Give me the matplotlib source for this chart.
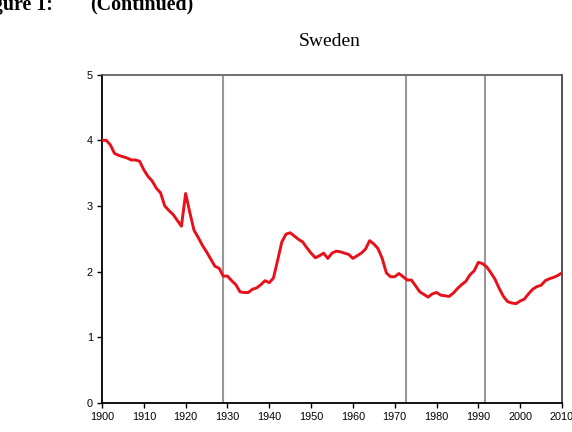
import matplotlib
matplotlib.use("Agg")
import matplotlib.pyplot as plt

years = list(range(1900, 2011))
values = [
    4.00, 4.00, 3.93, 3.80, 3.77, 3.75, 3.73, 3.70, 3.70, 3.68,   # 1900-1909
    3.55, 3.45, 3.38, 3.27, 3.20, 3.00, 2.93, 2.87, 2.78, 2.69,   # 1910-1919
    3.19, 2.90, 2.63, 2.52, 2.40, 2.30, 2.19, 2.08, 2.05, 1.93,   # 1920-1929
    1.93, 1.86, 1.80, 1.69, 1.68, 1.68, 1.73, 1.75, 1.80, 1.86,   # 1930-1939
    1.83, 1.90, 2.17, 2.45, 2.57, 2.59, 2.54, 2.49, 2.45, 2.36,   # 1940-1949
    2.28, 2.21, 2.24, 2.28, 2.20, 2.28, 2.31, 2.30, 2.28, 2.26,   # 1950-1959
    2.20, 2.24, 2.28, 2.34, 2.47, 2.42, 2.35, 2.20, 1.98, 1.92,   # 1960-1969
    1.92, 1.97, 1.92, 1.87, 1.87, 1.78, 1.69, 1.65, 1.61, 1.66,   # 1970-1979
    1.68, 1.64, 1.63, 1.62, 1.67, 1.74, 1.80, 1.85, 1.95, 2.01,   # 1980-1989
    2.14, 2.12, 2.07, 1.98, 1.88, 1.74, 1.62, 1.54, 1.52, 1.51,   # 1990-1999
    1.55, 1.58, 1.66, 1.73, 1.77, 1.79, 1.86, 1.89, 1.91, 1.94,   # 2000-2009
    1.98,                                                         # 2010
]
event_years = [1929.0, 1972.7, 1991.6]
xticks = list(range(1900, 2011, 10))
yticks = [0, 1, 2, 3, 4, 5]

fig = plt.figure(figsize=(5.72, 4.32), dpi=100)
ax = fig.add_axes([0.1783, 0.0678, 0.8042, 0.7593])

for ey in event_years:
    ax.axvline(ey, ymin=0, ymax=0.992, color="#999999", lw=1.5, zorder=1)

ax.plot(years, values, color="#e8101a", lw=2.1, zorder=3, solid_joinstyle="round")

ax.set_xlim(1900, 2010)
ax.set_ylim(0, 5)
ax.set_xticks(xticks)
ax.set_yticks(yticks)
ax.set_xticklabels([str(t) for t in xticks], fontsize=7.8, family="Liberation Sans")
ax.set_yticklabels([str(t) for t in yticks], fontsize=7.8, family="Liberation Sans")
ax.tick_params(axis="both", direction="out", length=3.5, width=1.0, color="black", pad=3)

for s in ["left", "bottom"]:
    ax.spines[s].set_color("black")
    ax.spines[s].set_linewidth(1.3)
ax.spines["top"].set_color("#555555")
ax.spines["top"].set_linewidth(1.2)
ax.spines["right"].set_color("#333333")
ax.spines["right"].set_linewidth(1.2)

fig.text(0.577, 0.905, "Sweden", fontsize=14, family="Liberation Serif",
         ha="center", va="center")
fig.text(0.0927, 0.977, "Figure 1:", fontsize=14.4, family="Liberation Serif",
         weight="bold", ha="right", va="baseline")
fig.text(0.157, 0.977, "(Continued)", fontsize=14.4, family="Liberation Serif",
         weight="bold", ha="left", va="baseline")

fig.savefig("out.png", dpi=100)
